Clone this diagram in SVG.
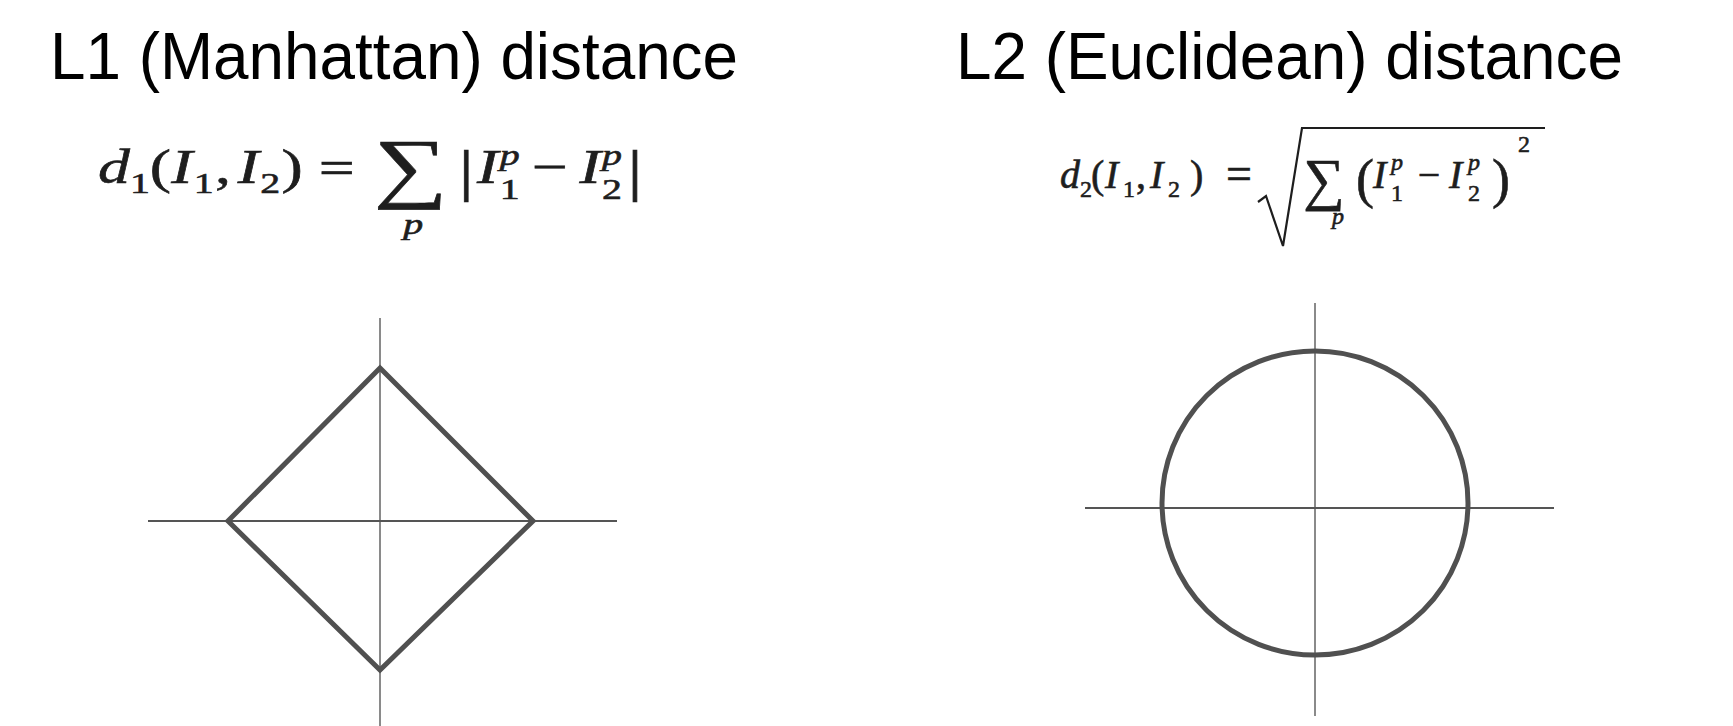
<svg xmlns="http://www.w3.org/2000/svg" width="1733" height="726" viewBox="0 0 1733 726">
<style>
.title{font-family:"Liberation Sans",Arial,sans-serif;font-size:67px;fill:#000}
.m{font-family:"Liberation Serif","Times New Roman",serif;fill:#1e1e1e;stroke:#1e1e1e;stroke-width:0.6}
.mi{font-style:italic;font-size:48px}
.mo{font-size:48px}
.sub{font-size:30px}
.sup{font-style:italic;font-size:30px}
.mi2{font-style:italic;font-size:40px}
.mo2{font-size:40px}
.sub2{font-size:24px}
.sup2{font-style:italic;font-size:24px}
.mid{text-anchor:middle}
.vax{stroke:#8a8a8a;stroke-width:2;fill:none}
.hax{stroke:#555;stroke-width:2;fill:none}
.shape{stroke:#505050;stroke-width:5;fill:none}
</style>
<g id="title-l1"><text class="title" x="50" y="79" textLength="688" lengthAdjust="spacingAndGlyphs">L1 (Manhattan) distance</text></g>
<g id="title-l2"><text class="title" x="956" y="79" textLength="667" lengthAdjust="spacingAndGlyphs">L2 (Euclidean) distance</text></g>
<g id="formula-l1" transform="translate(98,0) scale(1.33,1)">
<text class="m mi" x="0" y="183">d</text>
<text class="m sub" x="24" y="193">1</text>
<text class="m mo" x="39" y="183">(</text>
<text class="m mi" x="55" y="183">I</text>
<text class="m sub" x="72" y="193">1</text>
<text class="m mo" x="88" y="183">,</text>
<text class="m mi" x="105" y="183">I</text>
<text class="m sub" x="122" y="193">2</text>
<text class="m mo" x="138" y="183">)</text>
<text class="m mo" x="166" y="184">=</text>
<text class="m mid" x="235" y="193" style="font-size:78px">∑</text>
<text class="m sup mid" x="237" y="234">p</text>
<text class="m mo" x="271" y="190" style="font-size:58px">|</text>
<text class="m mi" x="285" y="183">I</text>
<text class="m sup" x="302" y="165">p</text>
<text class="m sub" x="302" y="199">1</text>
<text class="m mo" x="326" y="183">−</text>
<text class="m mi" x="362" y="183">I</text>
<text class="m sup" x="379" y="165">p</text>
<text class="m sub" x="379" y="199">2</text>
<text class="m mo" x="398" y="190" style="font-size:58px">|</text>
</g>
<g id="formula-l2">
<text class="m mi2" x="1060" y="188">d</text>
<text class="m sub2" x="1080" y="197">2</text>
<text class="m mo2" x="1091" y="188">(</text>
<text class="m mi2" x="1105" y="188">I</text>
<text class="m sub2" x="1123" y="197">1</text>
<text class="m mo2" x="1136" y="188">,</text>
<text class="m mi2" x="1150" y="188">I</text>
<text class="m sub2" x="1168" y="197">2</text>
<text class="m mo2" x="1190" y="188">)</text>
<text class="m mo2 mid" x="1239" y="189" style="font-size:46px">=</text>
<path d="M1258,202 L1266,196 L1283,246 L1302,128 L1545,128" stroke="#1e1e1e" stroke-width="2.2" fill="none"/>
<text class="m mid" x="1324" y="199" style="font-size:58px">∑</text>
<text class="m sup2 mid" x="1338" y="224">p</text>
<text class="m mo2" x="1356" y="197" style="font-size:54px">(</text>
<text class="m mi2" x="1373" y="188">I</text>
<text class="m sup2" x="1391" y="170">p</text>
<text class="m sub2" x="1391" y="201">1</text>
<text class="m mo2 mid" x="1429" y="188">−</text>
<text class="m mi2" x="1449" y="188">I</text>
<text class="m sup2" x="1468" y="170">p</text>
<text class="m sub2" x="1468" y="201">2</text>
<text class="m mo2" x="1492" y="197" style="font-size:54px">)</text>
<text class="m sub2" x="1518" y="152">2</text>
</g>
<g id="connectors">
<line class="vax" x1="380" y1="318" x2="380" y2="726"/>
<line class="hax" x1="148" y1="521" x2="617" y2="521"/>
<line class="vax" x1="1315" y1="303" x2="1315" y2="716"/>
<line class="hax" x1="1085" y1="508" x2="1554" y2="508"/>
</g>
<g id="diamond"><polygon class="shape" points="380,368 533,521 380,670 228,521"/></g>
<g id="circle"><ellipse class="shape" cx="1315" cy="503" rx="153" ry="152"/></g>
</svg>
